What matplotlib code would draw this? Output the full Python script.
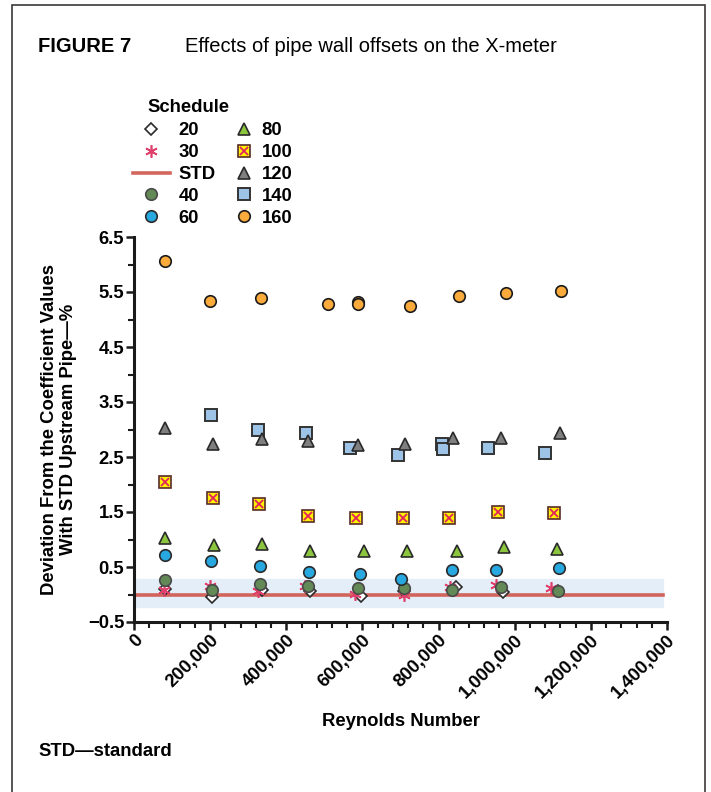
import numpy as np
import matplotlib
matplotlib.use("Agg")
import matplotlib.pyplot as plt
from matplotlib.patches import Rectangle
from matplotlib.ticker import MultipleLocator, FuncFormatter

plt.rcParams['font.family'] = ['Liberation Sans', 'DejaVu Sans']

# Reynolds number / deviation (%) per pipe schedule
re_20 = [82000, 204000, 337000, 462000, 597000, 708000, 847000, 969000, 1113000]
dev_20 = [0.10, -0.05, 0.08, 0.06, -0.03, 0.06, 0.14, 0.05, 0.06]

re_30 = [79000, 199500, 326000, 449000, 580000, 709000, 829000, 951000, 1096000]
dev_30 = [0.08, 0.15, 0.06, 0.15, 0.01, 0.00, 0.14, 0.17, 0.12]

re_40 = [82000, 204500, 330300, 458100, 589100, 707900, 835600, 963000, 1113000]
dev_40 = [0.26, 0.08, 0.20, 0.15, 0.12, 0.11, 0.08, 0.14, 0.06]

re_60 = [80500, 202700, 331100, 458800, 594400, 700100, 835000, 951000, 1117000]
dev_60 = [0.71, 0.61, 0.51, 0.41, 0.37, 0.29, 0.45, 0.45, 0.48]

re_80 = [80500, 210300, 335600, 461500, 603000, 717000, 849500, 972700, 1111000]
dev_80 = [1.02, 0.90, 0.91, 0.79, 0.79, 0.79, 0.79, 0.86, 0.83]

re_100 = [80500, 207900, 328300, 458100, 582000, 706100, 828500, 955200, 1103800]
dev_100 = [2.04, 1.75, 1.65, 1.43, 1.40, 1.39, 1.39, 1.50, 1.48]

re_120 = [80500, 207900, 335600, 456200, 587300, 711300, 838200, 964900, 1117700]
dev_120 = [3.03, 2.74, 2.82, 2.79, 2.71, 2.74, 2.84, 2.84, 2.94]

re_140 = [202700, 325100, 451000, 568200, 694000, 809400, 812800, 929000, 1079400]
dev_140 = [3.26, 2.99, 2.94, 2.67, 2.54, 2.73, 2.64, 2.67, 2.57]

re_160 = [82000, 198500, 333800, 510500, 589100, 589100, 725500, 852900, 978000, 1122200]
dev_160 = [6.06, 5.33, 5.39, 5.29, 5.32, 5.28, 5.25, 5.42, 5.49, 5.51]

std_x = [0, 1390000]
std_y = [0.0, 0.0]
band_lo, band_hi = -0.23, 0.28

edge = '#2a2a2a'
ms = 8.3
fs = 13.3

fig = plt.figure(figsize=(7.11, 7.92), dpi=100)
ax = fig.add_axes([134 / 711, 1 - 622 / 792, 533 / 711, 385 / 792])

# frame around the whole figure (open at the bottom)
fig.add_artist(Rectangle((12 / 711, -0.05), 693 / 711, 1.05 - 5 / 792, transform=fig.transFigure,
                         fill=False, edgecolor='#3a3a3a', linewidth=1.2))

ax.axhspan(band_lo, band_hi, xmin=0, xmax=1390000 / 1.4e6, color='#e4eef8', zorder=0)
std_line, = ax.plot(std_x, std_y, color='#cf554b', lw=2.6, alpha=0.9, zorder=1)

h20, = ax.plot(re_20, dev_20, 'D', ms=6, mfc='white', mec=edge, mew=1.2, ls='none', zorder=2)
h30, = ax.plot(re_30, dev_30, marker=(6, 2, 0), ms=9, color='#e0406b', mew=1.2, ls='none', zorder=3)
h40, = ax.plot(re_40, dev_40, 'o', ms=ms, mfc='#638a56', mec='#4a4a4a', mew=1.2, ls='none', zorder=4)
h60, = ax.plot(re_60, dev_60, 'o', ms=ms, mfc='#27a8e0', mec=edge, mew=1.2, ls='none', zorder=4)
h80, = ax.plot(re_80, dev_80, '^', ms=ms + 1, mfc='#8cc63e', mec=edge, mew=1.2, ls='none', zorder=4)
h100s, = ax.plot(re_100, dev_100, 's', ms=ms, mfc='#fff200', mec='#5a2a2a', mew=1.2, ls='none', zorder=4)
h100x, = ax.plot(re_100, dev_100, 'x', ms=ms - 2, color='#e0245e', mew=1.3, ls='none', zorder=5)
h140, = ax.plot(re_140, dev_140, 's', ms=ms, mfc='#9dc3e6', mec='#333333', mew=1.4, ls='none', zorder=4)
h120, = ax.plot(re_120, dev_120, '^', ms=ms + 1, mfc='#7f7f7f', mec=edge, mew=1.2, ls='none', zorder=5)
h160, = ax.plot(re_160, dev_160, 'o', ms=ms, mfc='#fbaa3c', mec='#1a1a1a', mew=1.2, ls='none', zorder=4)

ax.set_xlim(0, 1.4e6)
ax.set_ylim(-0.5, 6.5)
ax.set_xticks(np.arange(0, 1.4e6 + 1, 2e5))
ax.xaxis.set_minor_locator(MultipleLocator(40000))
ax.xaxis.set_major_formatter(FuncFormatter(lambda v, p: f"{int(round(v)):,}"))
ax.set_yticks(np.arange(-0.5, 6.6, 1.0))
ax.set_yticks(np.arange(0, 6.1, 1.0), minor=True)
ax.yaxis.set_major_formatter(FuncFormatter(lambda v, p: f"{v:.1f}".replace('-', '\u2212')))

for s in ['top', 'right']:
    ax.spines[s].set_visible(False)
for s in ['left', 'bottom']:
    ax.spines[s].set_linewidth(2.2)
    ax.spines[s].set_color('#1a1a1a')
ax.tick_params(which='major', length=6, width=1.8, color='#1a1a1a', labelsize=fs, pad=1)
ax.tick_params(which='minor', length=4, width=1.5, color='#1a1a1a')
for lbl in ax.get_xticklabels() + ax.get_yticklabels():
    lbl.set_fontweight('bold')
plt.setp(ax.get_xticklabels(), rotation=45, ha='right', va='top', rotation_mode='anchor')

ax.set_xlabel('Reynolds Number', fontsize=fs, fontweight='bold', labelpad=8)
ax.set_ylabel('Deviation From the Coefficient Values\nWith STD Upstream Pipe\u2014%',
              fontsize=fs, fontweight='bold', labelpad=8, linespacing=1.1)

# legend: title as plain text, then two single-column legends
fig.text(147 / 711, 1 - 108 / 792, 'Schedule', fontsize=fs, fontweight='bold', va='center')
leg_kw = dict(loc='upper left', ncol=1, frameon=False, prop={'weight': 'bold', 'size': fs},
              labelspacing=0.27, borderpad=0, borderaxespad=0)
fig.legend([h20, h30, std_line, h40, h60], ['20', '30', 'STD', '40', '60'],
           bbox_to_anchor=(133 / 711, 1 - 122 / 792), handlelength=2.0, handletextpad=0.45, **leg_kw)
fig.legend([h80, (h100s, h100x), h120, h140, h160], ['80', '100', '120', '140', '160'],
           bbox_to_anchor=(235 / 711, 1 - 122 / 792), handlelength=1.0, handletextpad=0.45, **leg_kw)

fig.text(38 / 711, 1 - 47 / 792, 'FIGURE 7', fontsize=14.5, fontweight='bold', va='center')
fig.text(185 / 711, 1 - 47 / 792, 'Effects of pipe wall offsets on the X-meter', fontsize=14.5, va='center')
fig.text(38 / 711, 1 - 752 / 792, 'STD\u2014standard', fontsize=fs, fontweight='bold', va='center')

fig.savefig('out.png', dpi=100)
